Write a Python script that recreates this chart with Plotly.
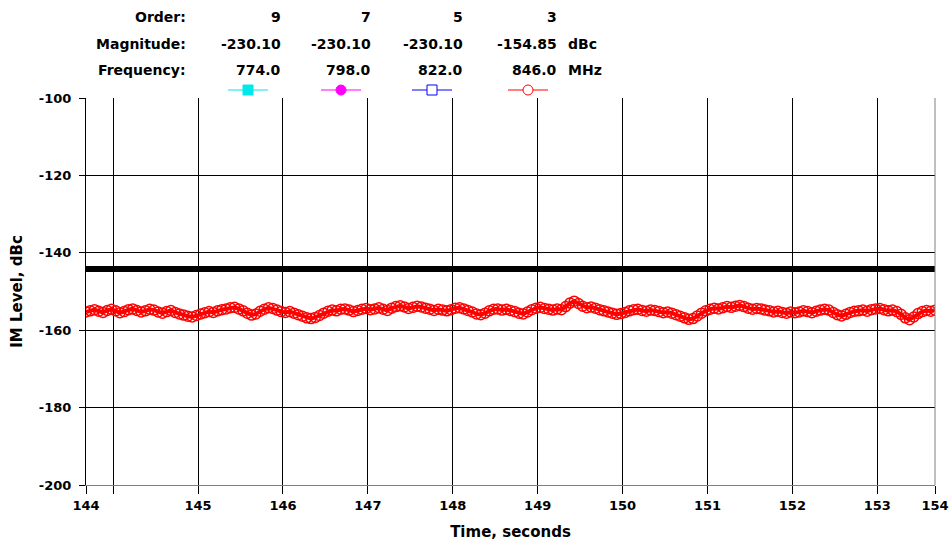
import plotly.graph_objects as go

# ---------------- data ----------------
level = [
    -155.3, -155.0, -154.7, -155.1, -155.4, -154.9, -154.6, -155.0, -155.5, -155.2,
    -154.7, -154.5, -154.9, -155.3, -155.0, -154.6, -154.8, -155.3, -155.6, -155.2,
    -154.9, -155.4, -155.8, -156.1, -156.4, -156.6, -156.2, -155.8, -155.5, -155.2,
    -155.4, -155.0, -154.7, -154.5, -154.2, -154.1, -154.5, -155.0, -155.6, -156.1,
    -155.8, -155.1, -154.6, -154.2, -154.4, -154.8, -155.2, -155.4, -155.2, -155.6,
    -156.0, -156.4, -156.8, -157.0, -156.7, -156.2, -155.6, -155.1, -154.8, -155.0,
    -154.6, -154.5, -154.8, -155.2, -154.9, -154.6, -154.4, -154.7, -154.5, -154.2,
    -154.6, -154.9, -154.3, -153.9, -153.7, -154.0, -154.4, -154.1, -153.8, -154.0,
    -154.3, -154.6, -154.9, -154.6, -154.8, -155.0, -154.7, -154.3, -154.2, -154.5,
    -154.9, -155.3, -155.8, -156.0, -155.6, -155.0, -154.6, -154.5, -154.8, -154.6,
    -154.9, -155.2, -155.6, -155.8, -155.3, -154.7, -154.3, -154.1, -154.4, -154.6,
    -154.8, -154.5, -154.7, -153.9, -153.0, -152.5, -153.1, -153.8, -154.2, -154.0,
    -154.3, -154.7, -155.0, -155.3, -155.6, -155.9, -155.7, -155.4, -155.0, -154.7,
    -154.6, -154.9, -155.1, -154.8, -154.9, -155.2, -155.5, -155.3, -155.6, -156.0,
    -156.4, -156.8, -157.2, -157.0, -156.3, -155.6, -155.0, -154.6, -154.3, -154.5,
    -154.2, -153.9, -154.1, -153.8, -153.6, -153.9, -154.3, -154.6, -154.4, -154.5,
    -154.8, -155.0, -155.3, -155.1, -155.4, -155.6, -155.3, -155.5, -155.3, -155.0,
    -155.2, -155.5, -155.1, -154.8, -154.6, -154.8, -155.4, -156.0, -156.3, -155.9,
    -155.4, -155.1, -155.0, -154.8, -155.1, -154.7, -154.5, -154.4, -154.7, -155.0,
    -154.8, -155.2, -155.9, -156.8, -157.3, -156.6, -155.7, -155.2, -154.9, -155.1,
    -154.85,
]
time_start = 144.0
time_step = 0.05
time = [round(time_start + time_step * i, 2) for i in range(len(level))]

limit_time = [144.0, 154.0]
limit_level = [-144.2, -144.2]

orders = ["9", "7", "5", "3"]
magnitudes = ["-230.10", "-230.10", "-230.10", "-154.85"]
frequencies = ["774.0", "798.0", "822.0", "846.0"]
series_colors = ["#00e8e8", "#ff00ff", "#0000ff", "#ff0000"]
series_symbols = ["square", "circle", "square-open", "circle-open"]

x_tickvals = [144, 144.32, 145.32, 146.32, 147.32, 148.32, 149.32,
              150.32, 151.32, 152.32, 153.32, 154]
x_ticktext = ["144", "", "145", "146", "147", "148", "149",
              "150", "151", "152", "153", "154"]
y_tickvals = [-200, -180, -160, -140, -120, -100]
y_ticktext = ["-200", "-180", "-160", "-140", "-120", "-100"]

# ---------------- layout helpers ----------------
W, H = 949, 542
L, R, T, B = 86, 14, 98, 57
PW, PH = W - L - R, H - T - B


def px(x):
    return (x - L) / PW


def py(y):
    return (H - B - y) / PH


FONT = dict(family="DejaVu Sans", size=14, color="black", weight="bold")
TICKFONT = dict(family="DejaVu Sans", size=13, color="black", weight="bold")
TITLEFONT = dict(family="DejaVu Sans", size=15, color="black", weight="bold")

fig = go.Figure()

fig.add_trace(go.Scatter(
    x=limit_time, y=limit_level, mode="lines",
    line=dict(color="black", width=6), showlegend=False, hoverinfo="skip"))

fig.add_trace(go.Scatter(
    x=time, y=level, mode="lines+markers",
    line=dict(color="#ff0000", width=4),
    marker=dict(symbol="circle-open", size=10, color="#ff0000",
                line=dict(width=1.5, color="#ff0000")),
    showlegend=False))

fig.update_xaxes(
    range=[144, 154], tickmode="array", tickvals=x_tickvals, ticktext=x_ticktext,
    showgrid=True, gridcolor="black", gridwidth=1,
    ticks="outside", ticklen=8, tickcolor="black", tickwidth=1,
    showline=True, linecolor="#808080", linewidth=1, mirror=False,
    zeroline=False, tickfont=TICKFONT, automargin=False,
    title=dict(text="Time, seconds", font=TITLEFONT, standoff=14))

fig.update_yaxes(
    range=[-200, -100], tickmode="array", tickvals=y_tickvals, ticktext=y_ticktext,
    showgrid=True, gridcolor="black", gridwidth=1,
    ticks="outside", ticklen=6, tickcolor="black", tickwidth=1,
    showline=True, linecolor="black", linewidth=1, mirror=False,
    zeroline=False, tickfont=TICKFONT, ticklabelstandoff=5, automargin=False,
    title=dict(text="IM Level, dBc", font=TITLEFONT, standoff=12))

annotations = []
row_y = [17, 44, 70]
row_labels = ["Order:", "Magnitude:", "Frequency:"]
for lab, yy in zip(row_labels, row_y):
    annotations.append(dict(x=px(188), y=py(yy), xref="paper", yref="paper",
                            text=lab, showarrow=False, xanchor="right",
                            yanchor="middle", font=FONT))
col_right = [283, 373, 465, 559]
for i, xr in enumerate(col_right):
    for vals, yy in zip([orders, magnitudes, frequencies], row_y):
        annotations.append(dict(x=px(xr), y=py(yy), xref="paper", yref="paper",
                                text=vals[i], showarrow=False, xanchor="right",
                                yanchor="middle", font=FONT))
for unit, yy in zip(["dBc", "MHz"], row_y[1:]):
    annotations.append(dict(x=px(566), y=py(yy), xref="paper", yref="paper",
                            text=unit, showarrow=False, xanchor="left",
                            yanchor="middle", font=FONT))

shapes = []
swatch_x = [248, 341, 432, 528]
sy = 90
for xc, col, sym in zip(swatch_x, series_colors, series_symbols):
    shapes.append(dict(type="line", xref="paper", yref="paper",
                       x0=px(xc - 20), x1=px(xc + 20), y0=py(sy), y1=py(sy),
                       line=dict(color=col, width=1)))
    filled = "open" not in sym
    kind = "rect" if sym.startswith("square") else "circle"
    shapes.append(dict(type=kind, xref="paper", yref="paper",
                       x0=px(xc - 5), x1=px(xc + 5), y0=py(sy - 5), y1=py(sy + 5),
                       line=dict(color=col, width=1),
                       fillcolor=col if filled else "white"))
# right frame edge
shapes.append(dict(type="line", xref="paper", yref="paper", x0=1, x1=1, y0=0, y1=1,
                   line=dict(color="#808080", width=1)))

fig.update_layout(
    width=W, height=H,
    margin=dict(l=L, r=R, t=T, b=B, pad=0, autoexpand=False),
    paper_bgcolor="white", plot_bgcolor="white",
    font=FONT, annotations=annotations, shapes=shapes,
    showlegend=False)

fig.write_html("out.html",
               config={"displayModeBar": False},
               post_script="document.body.style.margin='0px';"
                           "document.body.style.overflow='hidden';")
